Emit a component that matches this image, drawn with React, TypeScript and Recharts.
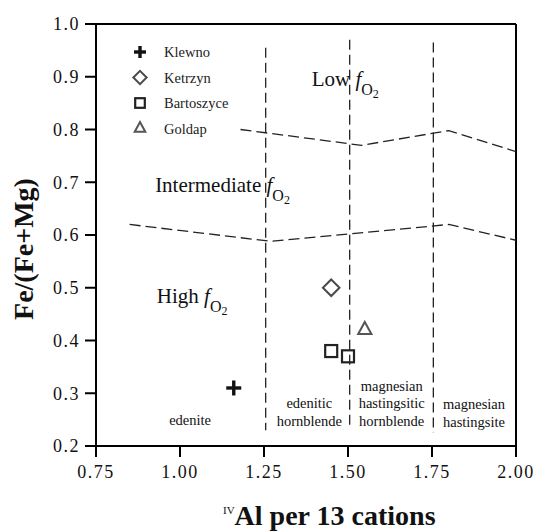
import React from 'react';
import {
  ScatterChart,
  Scatter,
  XAxis,
  YAxis,
  ReferenceLine,
  ReferenceDot,
  Legend,
} from 'recharts';

const FONT = '"Liberation Serif", serif';
const serif = { fontFamily: FONT };

// Axis ticks
const xTicks = [0.75, 1.0, 1.25, 1.5, 1.75, 2.0];
const yTicks = [0.2, 0.3, 0.4, 0.5, 0.6, 0.7, 0.8, 0.9, 1.0];

// Amphibole analyses: IVAl (x) vs Fe/(Fe+Mg) (y)
const klewno = [{ x: 1.16, y: 0.31 }];
const ketrzyn = [{ x: 1.45, y: 0.5 }];
const bartoszyce = [
  { x: 1.45, y: 0.38 },
  { x: 1.5, y: 0.37 },
];
const goldap = [{ x: 1.55, y: 0.42 }];

// Oxygen-fugacity field boundaries
const upperBoundary = [
  { x: 1.18, y: 0.8 },
  { x: 1.54, y: 0.77 },
  { x: 1.8, y: 0.798 },
  { x: 2.0, y: 0.758 },
];
const lowerBoundary = [
  { x: 0.85, y: 0.62 },
  { x: 1.27, y: 0.588 },
  { x: 1.8, y: 0.62 },
  { x: 2.0, y: 0.59 },
];

// Amphibole classification dividers (x, upper end, lower end)
const dividerX = [1.255, 1.505, 1.754];
const dividerTop = [0.955, 0.97, 0.965];
const dividerBottom = [0.23, 0.235, 0.225];

// fO2 field names and their anchor points
const fo2Names = ['Low', 'Intermediate', 'High'];
const fo2X = [1.392, 0.926, 0.931];
const fo2Y = [0.8825, 0.682, 0.4705];

// Amphibole species names (centred, first baseline)
const speciesLines = [
  ['edenite'],
  ['edenitic', 'hornblende'],
  ['magnesian', 'hastingsitic', 'hornblende'],
  ['magnesian', 'hastingsite'],
];
const speciesX = [1.03, 1.385, 1.63, 1.875];
const speciesY = [0.24, 0.272, 0.305, 0.27];

type Kind = 'plus' | 'diamond' | 'square' | 'triangle';

const series: { name: string; kind: Kind; data: { x: number; y: number }[] }[] = [
  { name: 'Klewno', kind: 'plus', data: klewno },
  { name: 'Ketrzyn', kind: 'diamond', data: ketrzyn },
  { name: 'Bartoszyce', kind: 'square', data: bartoszyce },
  { name: 'Goldap', kind: 'triangle', data: goldap },
];

function Marker({ kind, cx, cy, s = 1 }: { kind: Kind; cx: number; cy: number; s?: number }) {
  if (cx == null || cy == null) return <g />;
  switch (kind) {
    case 'plus': {
      const h = 7.5 * s;
      return (
        <g stroke="#111" strokeWidth={3.4}>
          <line x1={cx - h} y1={cy} x2={cx + h} y2={cy} />
          <line x1={cx} y1={cy - h} x2={cx} y2={cy + h} />
        </g>
      );
    }
    case 'diamond': {
      const h = 8.3 * s;
      return (
        <polygon
          points={`${cx},${cy - h} ${cx + h},${cy} ${cx},${cy + h} ${cx - h},${cy}`}
          fill="none"
          stroke="#4a4a4a"
          strokeWidth={2}
        />
      );
    }
    case 'square': {
      const h = 6 * s;
      return (
        <rect x={cx - h} y={cy - h} width={2 * h} height={2 * h} fill="none" stroke="#222" strokeWidth={2.2} />
      );
    }
    case 'triangle': {
      const w = 6.6 * s;
      const t = 12 * s;
      return (
        <polygon
          points={`${cx},${cy - (2 * t) / 3} ${cx + w},${cy + t / 3} ${cx - w},${cy + t / 3}`}
          fill="none"
          stroke="#555"
          strokeWidth={2}
        />
      );
    }
  }
  return <g />;
}

function LegendBox() {
  return (
    <svg width={110} height={104} style={{ display: 'block', overflow: 'visible' }}>
      {series.map((s, i) => {
        const cy = 14 + i * 25.5;
        return (
          <g key={s.name}>
            <Marker kind={s.kind} cx={15} cy={cy} s={0.8} />
            <text x={39} y={cy + 5} style={serif} fontSize={14.5} fill="#222">
              {s.name}
            </text>
          </g>
        );
      })}
    </svg>
  );
}

const renderXTick = (props: any) => {
  const { x, y, payload } = props;
  return (
    <text x={x} y={y} dy="0.71em" textAnchor="middle" style={{ ...serif, letterSpacing: '1.5px' }} fontSize={18} fill="#111">
      {Number(payload.value).toFixed(2)}
    </text>
  );
};

const renderYTick = (props: any) => {
  const { x, y, payload } = props;
  return (
    <text x={x} y={y} dy="0.355em" textAnchor="end" style={{ ...serif, letterSpacing: '1.5px' }} fontSize={18} fill="#111">
      {Number(payload.value).toFixed(1)}
    </text>
  );
};

const XTitle = (props: any) => {
  const vb = props.viewBox || { x: 96, y: 446 };
  return (
    <text x={vb.x + 127} y={vb.y + 79} style={serif} fontSize={28} fontWeight="bold" fill="#111">
      <tspan fontSize={11} fontWeight="normal" dy={-11.5}>
        IV
      </tspan>
      <tspan dy={11.5}>Al per 13 cations</tspan>
    </text>
  );
};

const YTitle = (props: any) => {
  const vb = props.viewBox || { x: 36, y: 24, height: 422 };
  const x = vb.x - 3;
  const y = vb.y + vb.height / 2 + 14;
  return (
    <text
      x={x}
      y={y}
      transform={`rotate(-90, ${x}, ${y})`}
      textAnchor="middle"
      style={serif}
      fontSize={28}
      fontWeight="bold"
      fill="#111"
    >
      Fe/(Fe+Mg)
    </text>
  );
};

const axisStroke = { stroke: '#000', strokeWidth: 2 };

export default function App() {
  return (
    <div style={{ position: 'absolute', left: 0, top: 0, background: '#fff', fontFamily: FONT }}>
      <ScatterChart width={535} height={531} margin={{ top: 14, right: 9, bottom: 45, left: 36 }}>
        <XAxis
          dataKey="x"
          type="number"
          domain={[0.75, 2]}
          ticks={xTicks}
          allowDataOverflow
          interval={0}
          height={40}
          tickSize={11}
          tickMargin={8}
          axisLine={axisStroke}
          tickLine={axisStroke}
          tick={renderXTick}
          label={{ content: XTitle }}
        />
        <XAxis
          xAxisId="top"
          orientation="top"
          type="number"
          domain={[0.75, 2]}
          ticks={xTicks}
          allowDataOverflow
          interval={0}
          height={10}
          tickSize={11}
          axisLine={axisStroke}
          tickLine={axisStroke}
          tick={false}
        />
        <YAxis
          dataKey="y"
          type="number"
          domain={[0.2, 1]}
          ticks={yTicks}
          allowDataOverflow
          interval={0}
          width={60}
          tickSize={11}
          tickMargin={5}
          axisLine={axisStroke}
          tickLine={axisStroke}
          tick={renderYTick}
          label={{ content: YTitle }}
        />
        <YAxis
          yAxisId="right"
          orientation="right"
          type="number"
          domain={[0.2, 1]}
          ticks={yTicks}
          allowDataOverflow
          interval={0}
          width={10}
          tickSize={13}
          axisLine={axisStroke}
          tickLine={axisStroke}
          tick={false}
        />

        {dividerX.map((x, i) => (
          <ReferenceLine
            key={`div-${i}`}
            segment={[
              { x, y: dividerTop[i] },
              { x, y: dividerBottom[i] },
            ]}
            stroke="#222"
            strokeWidth={1.3}
            strokeDasharray="10 5"
          />
        ))}

        <Scatter
          name="upper"
          data={upperBoundary}
          line={{ stroke: '#222', strokeWidth: 1.3, strokeDasharray: '11 5' }}
          shape={() => <g />}
          legendType="none"
          isAnimationActive={false}
        />
        <Scatter
          name="lower"
          data={lowerBoundary}
          line={{ stroke: '#222', strokeWidth: 1.3, strokeDasharray: '11 5' }}
          shape={() => <g />}
          legendType="none"
          isAnimationActive={false}
        />

        {fo2Names.map((name, i) => (
          <ReferenceDot
            key={`fo2-${i}`}
            x={fo2X[i]}
            y={fo2Y[i]}
            r={0}
            shape={(p: any) => (
              <text x={p.cx} y={p.cy} style={serif} fontSize={21} fill="#111">
                <tspan>{name} </tspan>
                <tspan fontStyle="italic">f</tspan>
                <tspan fontSize={16} dy={9}>
                  O
                </tspan>
                <tspan fontSize={12} dy={3}>
                  2
                </tspan>
              </text>
            )}
          />
        ))}

        {speciesLines.map((lines, i) => (
          <ReferenceDot
            key={`sp-${i}`}
            x={speciesX[i]}
            y={speciesY[i]}
            r={0}
            shape={(p: any) => (
              <text x={p.cx} y={p.cy} textAnchor="middle" style={serif} fontSize={14.5} fill="#111">
                {lines.map((l, j) => (
                  <tspan key={j} x={p.cx} dy={j === 0 ? 0 : 17.5}>
                    {l}
                  </tspan>
                ))}
              </text>
            )}
          />
        ))}

        {series.map((s) => (
          <Scatter
            key={s.name}
            name={s.name}
            data={s.data}
            isAnimationActive={false}
            shape={(p: any) => <Marker kind={s.kind} cx={p.cx} cy={p.cy} />}
          />
        ))}

        <Legend
          layout="horizontal"
          verticalAlign="middle"
          align="center"
          wrapperStyle={{ left: 125, top: 38, width: 110, height: 104 }}
          content={() => <LegendBox />}
        />
      </ScatterChart>
    </div>
  );
}
